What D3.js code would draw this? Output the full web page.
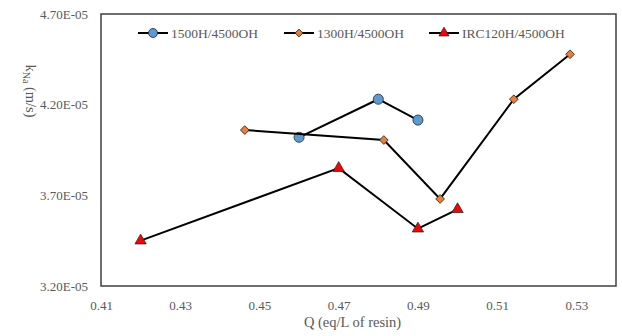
<!DOCTYPE html>
<html>
<head>
<meta charset="utf-8">
<script src="https://cdn.jsdelivr.net/npm/d3@7"></script>
<style>
  body { margin: 0; background: #fff; }
  text { font-family: "Liberation Serif", "Times New Roman", serif; }
</style>
</head>
<body>
<div id="chart"></div>
<script>
// series data
var seriesNames = ["1500H/4500OH", "1300H/4500OH", "IRC120H/4500OH"];
var q1500 = [0.46, 0.48, 0.49];
var k1500 = [4.02e-5, 4.23e-5, 4.115e-5];
var q1300 = [0.4463, 0.4814, 0.4956, 0.5142, 0.5284];
var k1300 = [4.06e-5, 4.005e-5, 3.68e-5, 4.23e-5, 4.478e-5];
var qIrc = [0.42, 0.47, 0.49, 0.50];
var kIrc = [3.45e-5, 3.85e-5, 3.516e-5, 3.623e-5];
var xTicks = [0.41, 0.43, 0.45, 0.47, 0.49, 0.51, 0.53];
var yTicks = [3.2e-5, 3.7e-5, 4.2e-5, 4.7e-5];

var width = 622, height = 336;
var margin = {top: 14, right: 6, bottom: 50, left: 101};

var svg = d3.select("#chart").append("svg")
    .attr("width", width)
    .attr("height", height);

var x = d3.scaleLinear().domain([0.41, 0.54]).range([margin.left, width - margin.right]);
var y = d3.scaleLinear().domain([3.2e-5, 4.7e-5]).range([height - margin.bottom, margin.top]);

// diamond = square turned 45deg (excel style, not the tall d3 diamond)
var series = [
    {name: seriesNames[0], q: q1500, k: k1500, shape: d3.symbolCircle, size: 80, rot: 0, fill: "#5B9BD5"},
    {name: seriesNames[1], q: q1300, k: k1300, shape: d3.symbolSquare, size: 38, rot: 45, fill: "#ED7D31"},
    {name: seriesNames[2], q: qIrc, k: kIrc, shape: d3.symbolTriangle, size: 55, rot: 0, fill: "#FF0000"}
];

// plot frame
svg.append("rect")
    .attr("x", x(0.41))
    .attr("y", y(4.7e-5))
    .attr("width", x(0.54) - x(0.41))
    .attr("height", y(3.2e-5) - y(4.7e-5))
    .attr("fill", "none")
    .attr("stroke", "#404040")
    .attr("stroke-width", 1.5);

// axes (labels only, frame drawn above)
var xAxis = svg.append("g")
    .attr("transform", "translate(0," + (height - margin.bottom) + ")")
    .call(d3.axisBottom(x).tickValues(xTicks).tickSize(0).tickPadding(15)
        .tickFormat(d3.format(".2f")));
var yAxis = svg.append("g")
    .attr("transform", "translate(" + margin.left + ",0)")
    .call(d3.axisLeft(y).tickValues(yTicks).tickSize(0).tickPadding(13)
        .tickFormat(function (d) { return (d / 1e-5).toFixed(2) + "E-05"; }));
[xAxis, yAxis].forEach(function (a) {
    a.select(".domain").remove();
    a.selectAll("text")
        .attr("fill", "#595959")
        .style("font-size", "13px")
        .style("font-family", "Liberation Serif, serif");
});

// axis titles
svg.append("text")
    .attr("x", x(0.4735))
    .attr("y", 327)
    .attr("text-anchor", "middle")
    .attr("fill", "#595959")
    .style("font-size", "14.5px")
    .text("Q (eq/L of resin)");

var yTitle = svg.append("text")
    .attr("transform", "translate(26," + 91 + ") rotate(90)")
    .attr("text-anchor", "middle")
    .attr("fill", "#595959")
    .style("font-size", "14.5px");
yTitle.append("tspan").text("k");
yTitle.append("tspan").attr("dy", 3).style("font-size", "10px").text("Na");
yTitle.append("tspan").attr("dy", -3).text(" (m/s)");

var line = d3.line()
    .x(function (d) { return x(d[0]); })
    .y(function (d) { return y(d[1]); });

series.forEach(function (s) {
    var pts = d3.zip(s.q, s.k);
    svg.append("path")
        .datum(pts)
        .attr("d", line)
        .attr("fill", "none")
        .attr("stroke", "#000")
        .attr("stroke-width", 2);
    svg.selectAll(null)
        .data(pts)
        .enter().append("path")
        .attr("transform", function (d) {
            return "translate(" + x(d[0]) + "," + y(d[1]) + ") rotate(" + s.rot + ")";
        })
        .attr("d", d3.symbol().type(s.shape).size(s.size))
        .attr("fill", s.fill)
        .attr("stroke", "#262626")
        .attr("stroke-width", 0.8);
});

// legend
var legendX = [138, 284, 429];
var legend = svg.selectAll(".legendItem")
    .data(series)
    .enter().append("g")
    .attr("class", "legendItem")
    .attr("transform", function (d, i) { return "translate(" + legendX[i] + ",33)"; });
legend.append("line")
    .attr("x1", 0).attr("x2", 30)
    .attr("stroke", "#000")
    .attr("stroke-width", 2);
legend.append("path")
    .attr("transform", function (d) { return "translate(15,0) rotate(" + d.rot + ")"; })
    .attr("d", function (d) { return d3.symbol().type(d.shape).size(d.size * 0.8)(); })
    .attr("fill", function (d) { return d.fill; })
    .attr("stroke", "#262626")
    .attr("stroke-width", 0.8);
legend.append("text")
    .attr("x", 33)
    .attr("dy", "0.35em")
    .attr("fill", "#595959")
    .style("font-size", "13.5px")
    .text(function (d) { return d.name; });
</script>
</body>
</html>
